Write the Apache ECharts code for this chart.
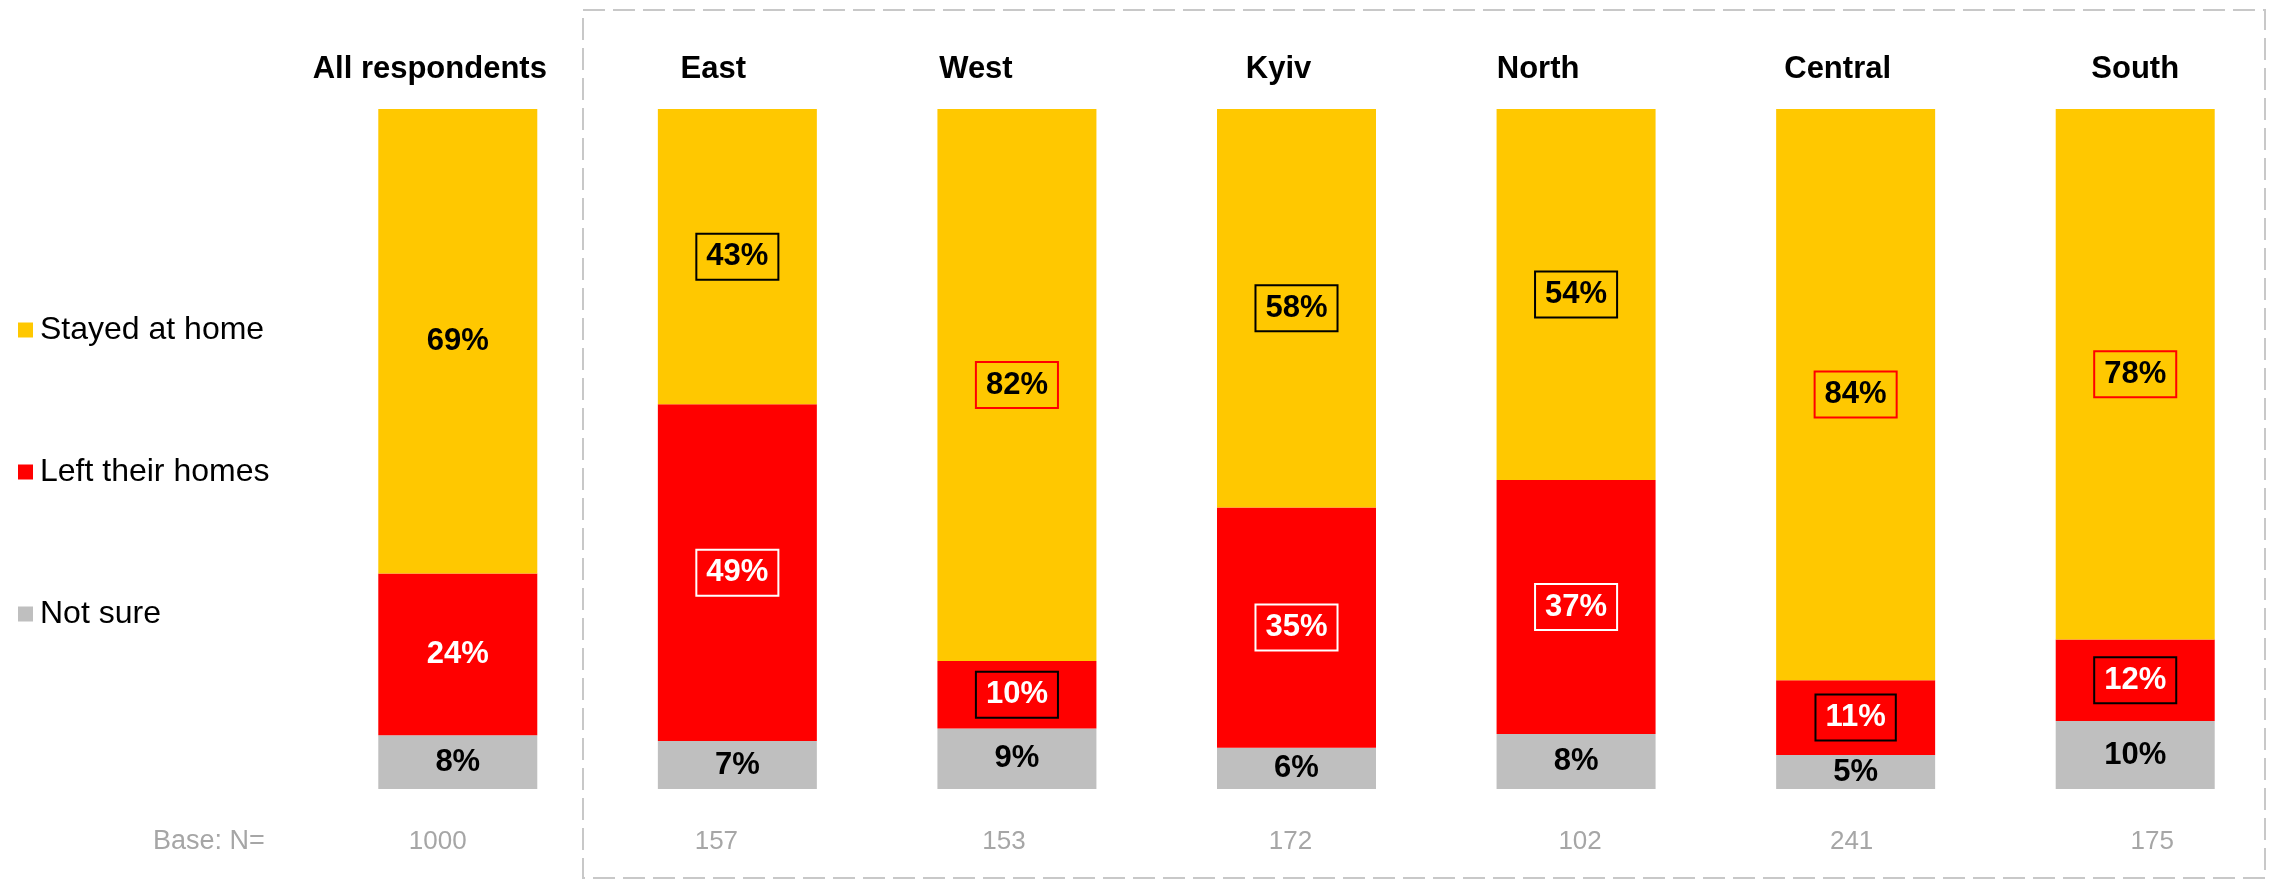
<!DOCTYPE html>
<html>
<head>
<meta charset="utf-8">
<script src="https://cdn.jsdelivr.net/npm/echarts@6/dist/echarts.min.js"></script>
<style>
  html, body { margin: 0; padding: 0; background: #fff; }
  #chart { width: 2283px; height: 880px; }
</style>
</head>
<body>
<div id="chart"></div>
<script>
// data
const regions = ['All respondents', 'East', 'West', 'Kyiv', 'North', 'Central', 'South']
const baseN = ['1000', '157', '153', '172', '102', '241', '175']
const stayed = [69, 43, 82, 58, 54, 84, 78]
const left = [24, 49, 10, 35, 37, 11, 12]
const notSure = [8, 7, 9, 6, 8, 5, 10]

// label box colours (null = no box)
const stayedBox = [null, '#000', '#f00', '#000', '#000', '#f00', '#f00']
const leftBox = [null, '#fff', '#000', '#fff', '#fff', '#000', '#000']
// small horizontal nudges of the header / base texts
const titleShift = [-28, -24, -41, -18, -38, -18, 0]
const baseShift = [-20, -21, -13, -6, 4, -4, 17]

const font = '"Liberation Sans", Arial, sans-serif'
const totals = stayed.map((v, i) => v + left[i] + notSure[i])

function shiftPad(off) {
  return off < 0 ? [0, -2 * off, 0, 0] : [0, 0, 0, 2 * off]
}

function items(values, boxes) {
  return values.map((v, i) => {
    const item = { value: v / totals[i] * 100, raw: v }
    if (boxes && boxes[i]) {
      item.label = { borderColor: boxes[i], borderWidth: 2, padding: [5, 10] }
    }
    return item
  })
}

const labelBase = {
  show: true,
  position: 'inside',
  fontFamily: font,
  fontWeight: 'bold',
  fontSize: 31,
  lineHeight: 36,
  formatter: (p) => p.data.raw + '%'
}

const chart = echarts.init(document.getElementById('chart'))
chart.setOption({
  animation: false,
  backgroundColor: '#fff',
  grid: { left: 318, right: 8, top: 109, bottom: 91 },
  legend: {
    orient: 'vertical',
    left: 13,
    top: 308,
    icon: 'rect',
    itemWidth: 15,
    itemHeight: 15,
    itemGap: 108,
    data: ['Stayed at home', 'Left their homes', 'Not sure'],
    textStyle: { fontFamily: font, fontSize: 32, color: '#000', lineHeight: 34, padding: [0, 0, 0, 2] }
  },
  xAxis: [
    {
      type: 'category',
      position: 'bottom',
      data: baseN.map((n, i) => ({ value: n, textStyle: { padding: shiftPad(baseShift[i]) } })),
      axisLine: { show: false },
      axisTick: { show: false },
      axisLabel: { interval: 0, fontFamily: font, fontSize: 26, color: '#a6a6a6', margin: 40 }
    },
    {
      type: 'category',
      position: 'top',
      data: regions.map((r, i) => ({ value: r, textStyle: { padding: shiftPad(titleShift[i]) } })),
      axisLine: { show: false },
      axisTick: { show: false },
      axisLabel: { interval: 0, fontFamily: font, fontSize: 31, fontWeight: 'bold', color: '#000', margin: 24 }
    }
  ],
  yAxis: { type: 'value', min: 0, max: 100, show: false },
  series: [
    {
      name: 'Not sure',
      type: 'bar',
      stack: 'total',
      barWidth: 159,
      itemStyle: { color: '#bfbfbf' },
      label: Object.assign({}, labelBase, { color: '#000' }),
      data: items(notSure, null)
    },
    {
      name: 'Left their homes',
      type: 'bar',
      stack: 'total',
      barWidth: 159,
      itemStyle: { color: '#ff0000' },
      label: Object.assign({}, labelBase, { color: '#fff' }),
      data: items(left, leftBox)
    },
    {
      name: 'Stayed at home',
      type: 'bar',
      stack: 'total',
      barWidth: 159,
      itemStyle: { color: '#ffc800' },
      label: Object.assign({}, labelBase, { color: '#000' }),
      data: items(stayed, stayedBox)
    }
  ],
  graphic: [
    {
      type: 'rect',
      shape: { x: 583, y: 10, width: 1682, height: 868 },
      style: { fill: 'none', stroke: '#c8c8c8', lineWidth: 2, lineDash: [22, 8] },
      silent: true
    },
    {
      type: 'text',
      left: 153,
      top: 828,
      style: { text: 'Base: N=', fontFamily: font, fontSize: 27, fill: '#a6a6a6' }
    }
  ]
})
</script>
</body>
</html>
